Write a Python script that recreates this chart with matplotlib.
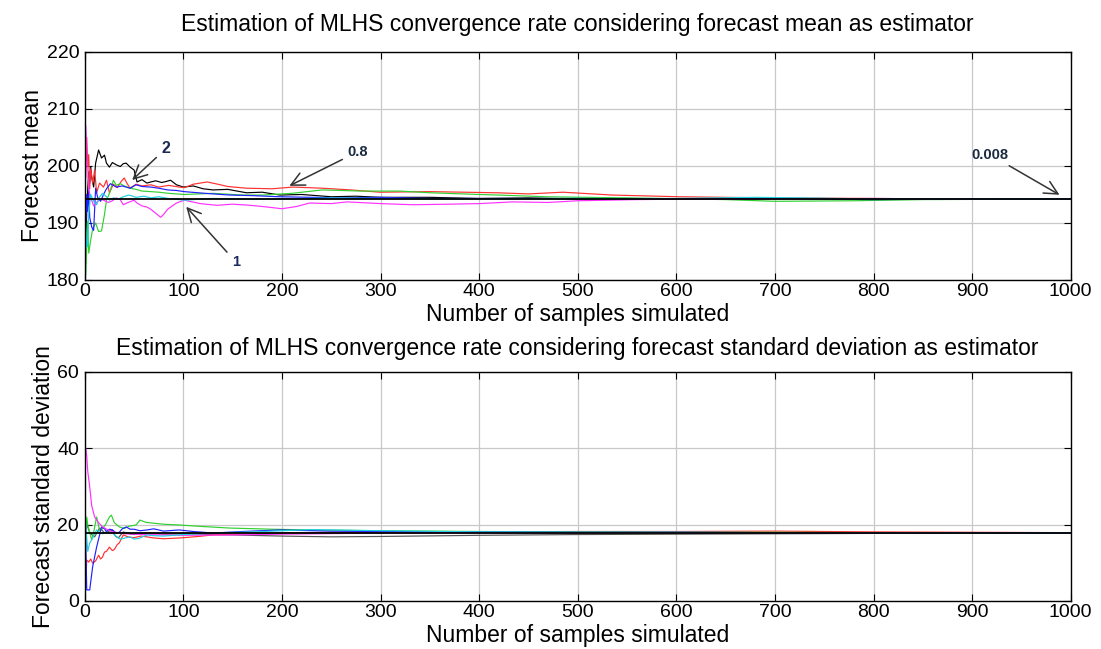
import matplotlib
matplotlib.use("Agg")
import matplotlib.pyplot as plt

plt.rcParams['font.family'] = ['Liberation Sans', 'DejaVu Sans']

# --- data: forecast mean (top panel) ---
mean_ref = 194.2

black_x = [1, 2, 3, 4, 5, 6, 7, 9, 11, 14, 17, 20, 22, 25, 28, 32, 36, 39, 42, 46, 50, 53, 58, 63, 67, 72, 78, 83, 87, 93, 100, 110, 120, 130, 145, 164, 180, 198, 220, 250, 275, 300, 350, 400, 450, 500, 550, 600, 700, 800, 900, 1000]
black_y = [185, 192, 196, 199, 197, 199.8, 198, 196.3, 200.5, 202.8, 201.4, 201.9, 200.5, 199.8, 200.6, 200.2, 199.9, 200.4, 200.5, 199.8, 199.3, 197.2, 197.6, 197.0, 197.2, 197.4, 197.1, 197.3, 197.5, 196.7, 196.3, 196.5, 196.0, 195.8, 195.9, 195.3, 195.4, 194.9, 195.0, 194.6, 194.7, 194.5, 194.5, 194.3, 194.4, 194.2, 194.3, 194.2, 194.3, 194.2, 194.2, 194.2]

red_x = [1, 2, 3, 4, 5, 6, 8, 10, 12, 15, 19, 22, 25, 29, 33, 37, 40, 43, 46, 52, 58, 67, 75, 85, 96, 101, 110, 124, 135, 145, 164, 190, 211, 241, 270, 299, 350, 418, 450, 485, 535, 603, 650, 700, 800, 900, 1000]
red_y = [198, 205, 200, 202, 196, 199.5, 197, 199.3, 195.3, 197, 196.3, 197.5, 195.3, 196.8, 196.2, 197.3, 197.9, 196.9, 196.1, 196.8, 196.5, 196.7, 196.3, 196.6, 196.3, 196.2, 196.8, 197.2, 196.8, 196.4, 196.1, 196.0, 196.3, 196.1, 195.8, 195.4, 195.5, 195.3, 195.1, 195.4, 194.9, 194.6, 194.5, 194.4, 194.3, 194.2, 194.2]

green_x = [1, 2, 3, 4, 6, 8, 11, 14, 17, 20, 22, 25, 29, 32, 36, 40, 46, 52, 58, 67, 75, 85, 101, 130, 160, 180, 210, 241, 280, 320, 350, 400, 420, 468, 550, 650, 700, 780, 850, 1000]
green_y = [181, 186, 190.3, 184.7, 187, 189, 190, 188.5, 188.6, 191.5, 194, 195.2, 197.5, 196.6, 196.9, 196.5, 196.1, 195.9, 195.6, 195.5, 195.4, 195.2, 195.0, 195.2, 194.9, 194.9, 195.2, 195.8, 195.6, 195.6, 195.3, 195.0, 194.9, 194.6, 194.4, 194.1, 193.8, 193.9, 194.1, 194.2]

blue_x = [1, 2, 3, 4, 5, 7, 9, 11, 13, 16, 19, 22, 26, 32, 38, 46, 52, 58, 67, 75, 84, 93, 101, 115, 130, 147, 170, 198, 230, 260, 300, 350, 400, 500, 600, 700, 800, 900, 1000]
blue_y = [190, 195, 192, 196.1, 191, 189.3, 188.7, 196.1, 194.5, 193.8, 195, 196.0, 196.9, 196.3, 196.5, 196.1, 196.7, 196.4, 196.3, 196.1, 195.8, 195.7, 195.5, 195.3, 195.1, 194.9, 194.8, 194.6, 194.5, 194.4, 194.5, 194.3, 194.3, 194.3, 194.2, 194.3, 194.1, 194.2, 194.2]

magenta_x = [1, 2, 3, 4, 6, 9, 12, 15, 19, 24, 28, 32, 36, 39, 44, 50, 53, 58, 63, 67, 72, 77, 80, 84, 88, 93, 101, 117, 134, 150, 168, 185, 200, 215, 228, 250, 266, 300, 333, 370, 400, 434, 470, 500, 560, 620, 700, 800, 900, 1000]
magenta_y = [207, 202.2, 199.9, 195.8, 194.5, 193.0, 193.6, 194.2, 194.0, 193.6, 193.9, 194.4, 194.1, 193.2, 193.6, 194.0, 193.5, 193.0, 192.8, 192.4, 191.7, 191.0, 191.5, 192.4, 192.9, 193.5, 194.0, 193.4, 193.1, 193.3, 193.1, 192.8, 192.5, 192.9, 193.5, 193.4, 193.7, 193.4, 193.2, 193.3, 193.4, 193.7, 193.6, 193.9, 194.1, 194.2, 194.2, 194.3, 194.2, 194.2]

cyan_x = [1, 2, 3, 4, 6, 8, 10, 12, 15, 18, 22, 25, 29, 34, 39, 45, 52, 60, 67, 75, 85, 101, 130, 160, 200, 250, 300, 400, 500, 600, 680, 730, 800, 900, 1000]
cyan_y = [190, 185.8, 186, 191.6, 195, 194.2, 193.5, 193.2, 194.6, 195.2, 194.6, 194.0, 194.4, 194.2, 194.6, 194.9, 194.5, 194.7, 194.4, 194.6, 194.3, 194.0, 194.3, 194.2, 194.2, 194.4, 194.3, 194.2, 194.3, 194.3, 194.5, 194.4, 194.2, 194.2, 194.2]

# --- data: forecast standard deviation (bottom panel) ---
std_ref = 17.8

s_magenta_x = [1, 2, 3, 5, 7, 10, 14, 18, 23, 28, 34, 40, 50, 60, 80, 100, 150, 200, 300, 400, 500, 600, 700, 800, 900, 1000]
s_magenta_y = [40, 38, 34, 29.9, 25, 22, 20.5, 19.4, 18.7, 18.1, 17.9, 17.6, 17.5, 17.4, 17.3, 17.2, 17.3, 17.5, 17.8, 17.9, 17.8, 17.9, 17.8, 17.8, 17.8, 17.8]

s_blue_x = [1, 2, 5, 8, 12, 17, 20, 22, 25, 28, 32, 35, 38, 42, 46, 50, 56, 63, 70, 80, 90, 96, 110, 130, 160, 198, 250, 300, 400, 500, 600, 700, 800, 900, 1000]
s_blue_y = [15, 2.9, 2.9, 9, 14.1, 19.4, 18.9, 18.2, 18.8, 18.6, 17.8, 18.0, 18.9, 19.4, 18.8, 18.8, 18.4, 18.6, 18.9, 18.3, 18.5, 18.6, 18.2, 17.8, 18.2, 18.6, 18.3, 18.2, 18.1, 18.0, 18.0, 17.9, 17.9, 17.8, 17.8]

s_green_x = [1, 2, 3, 4, 7, 9, 12, 15, 17, 21, 25, 27, 30, 35, 40, 45, 52, 56, 62, 69, 80, 96, 120, 147, 190, 231, 300, 400, 500, 600, 700, 800, 900, 1000]
s_green_y = [17, 22, 20, 19, 16, 18, 22, 18.5, 18.6, 20, 22, 22.5, 20.5, 19.4, 19.0, 19.6, 19.9, 21.2, 20.6, 20.4, 20.1, 19.9, 19.5, 19.1, 18.8, 18.6, 18.4, 18.2, 18.1, 18.0, 18.0, 17.9, 17.9, 17.8]

s_red_x = [1, 2, 4, 6, 8, 11, 14, 16, 18, 20, 22, 25, 28, 30, 33, 35, 39, 45, 50, 57, 63, 70, 80, 96, 115, 130, 160, 198, 250, 300, 400, 500, 600, 700, 800, 900, 1000]
s_red_y = [5, 10.7, 10.2, 11, 9.9, 10.5, 12, 11.0, 11.5, 12.8, 13, 14.1, 13.2, 13.5, 14.8, 15.2, 17.3, 16.7, 16.6, 17.0, 16.8, 16.5, 16.3, 16.5, 16.9, 17.3, 17.5, 17.8, 18.0, 18.0, 18.1, 18.2, 18.2, 18.3, 18.1, 18.0, 17.9]

s_cyan_x = [1, 3, 5, 8, 12, 15, 18, 23, 28, 32, 36, 41, 46, 50, 55, 63, 70, 80, 100, 130, 180, 231, 300, 400, 500, 600, 700, 800, 900, 1000]
s_cyan_y = [20, 13, 15.2, 16.5, 18.6, 18.0, 17.6, 18.0, 17.8, 16.9, 16.2, 16.5, 16.8, 16.2, 16.4, 17.3, 17.1, 17.0, 17.4, 17.8, 18.2, 18.7, 18.4, 18.1, 18.0, 18.0, 17.9, 17.9, 17.8, 17.8]

s_black_x = [1, 2, 5, 10, 15, 20, 25, 28, 31, 34, 39, 45, 50, 63, 80, 100, 150, 200, 250, 300, 400, 500, 600, 700, 800, 900, 1000]
s_black_y = [14, 20.4, 17.8, 16.8, 19.1, 17.9, 18.3, 18.6, 17.0, 16.5, 18.1, 17.6, 17.4, 17.8, 17.5, 17.6, 17.3, 17.0, 16.8, 16.9, 17.2, 17.4, 17.5, 17.6, 17.7, 17.7, 17.8]

xticks = list(range(0, 1001, 100))
mean_yticks = [180, 190, 200, 210, 220]
std_yticks = [0, 20, 40, 60]

colors = {'black': 'black', 'red': '#ff3030', 'green': '#30d030', 'blue': '#2020ff',
          'magenta': '#ff30ff', 'cyan': '#20d0e0'}

fig = plt.figure(figsize=(11.01, 6.49), dpi=100)
ax1 = fig.add_axes([0.077, 0.5686, 0.8955, 0.3513])
ax2 = fig.add_axes([0.077, 0.074, 0.8955, 0.3529])


def style_axis(ax, yticks, ylim):
    ax.set_xlim(0, 1000)
    ax.set_ylim(*ylim)
    ax.set_xticks(xticks)
    ax.set_yticks(yticks)
    ax.grid(True, color='#c8c8c8', lw=0.9)
    ax.set_axisbelow(True)
    ax.tick_params(direction='in', top=True, right=True, length=5, labelsize=14)
    ax.tick_params(axis='x', pad=2)
    ax.tick_params(axis='y', pad=4)
    for s in ax.spines.values():
        s.set_linewidth(1.0)
    ax.set_xlabel('Number of samples simulated', fontsize=16.5, labelpad=2)


lw = 0.85
ax1.plot(black_x, black_y, color=colors['black'], lw=lw)
ax1.plot(red_x, red_y, color=colors['red'], lw=lw)
ax1.plot(green_x, green_y, color=colors['green'], lw=lw)
ax1.plot(blue_x, blue_y, color=colors['blue'], lw=lw)
ax1.plot(magenta_x, magenta_y, color=colors['magenta'], lw=lw)
ax1.plot(cyan_x, cyan_y, color=colors['cyan'], lw=lw)
ax1.axhline(mean_ref, color='black', lw=1.3)
style_axis(ax1, mean_yticks, (180, 220))
ax1.set_ylabel('Forecast mean', fontsize=16.5, labelpad=2)
ax1.set_title('Estimation of MLHS convergence rate considering forecast mean as estimator',
              fontsize=16.5, pad=15)

arrow = dict(arrowstyle='->', lw=1.1, color='#333333', mutation_scale=24)
ax1.annotate('2', xy=(46, 197.2), xytext=(82, 203), fontsize=11.5, fontweight='bold',
             color='#1a2a50', ha='center', va='center', arrowprops=arrow)
ax1.annotate('0.8', xy=(205, 196.3), xytext=(277, 202.5), fontsize=10.5, fontweight='bold',
             color='#1a2a40', ha='center', va='center', arrowprops=arrow)
ax1.annotate('1', xy=(101, 193.2), xytext=(153, 183.2), fontsize=10.5, fontweight='bold',
             color='#1a2a60', ha='center', va='center', arrowprops=arrow)
ax1.annotate('0.008', xy=(991, 194.7), xytext=(918, 202), fontsize=10.5, fontweight='bold',
             color='#1a2a40', ha='center', va='center', arrowprops=arrow)

ax2.plot(s_black_x, s_black_y, color='#555555', lw=lw)
ax2.plot(s_red_x, s_red_y, color=colors['red'], lw=lw)
ax2.plot(s_green_x, s_green_y, color=colors['green'], lw=lw)
ax2.plot(s_blue_x, s_blue_y, color=colors['blue'], lw=lw)
ax2.plot(s_magenta_x, s_magenta_y, color=colors['magenta'], lw=lw)
ax2.plot(s_cyan_x, s_cyan_y, color=colors['cyan'], lw=lw)
ax2.axhline(std_ref, color='black', lw=1.3)
style_axis(ax2, std_yticks, (0, 60))
ax2.set_ylabel('Forecast standard deviation', fontsize=16.5, labelpad=2)
ax2.set_title('Estimation of MLHS convergence rate considering forecast standard deviation as estimator',
              fontsize=16.5, pad=12)

fig.savefig('out.png', dpi=100)
